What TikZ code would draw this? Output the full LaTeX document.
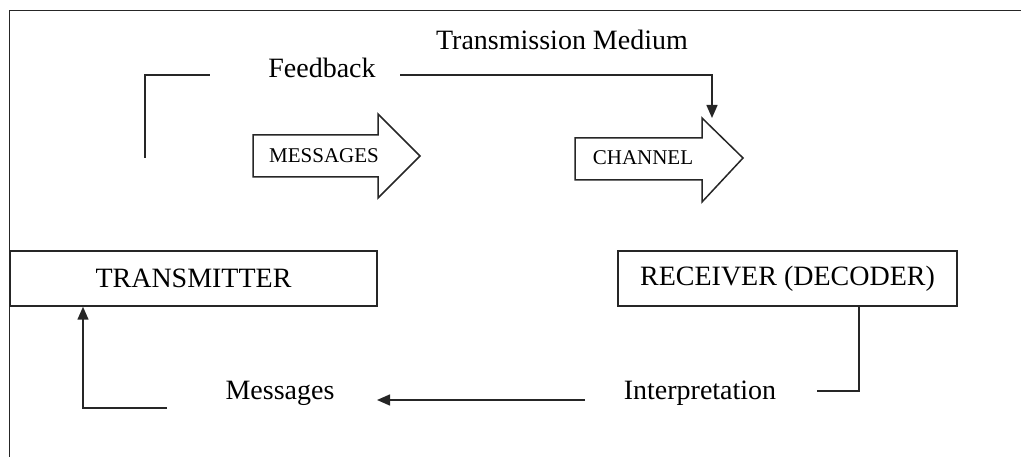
\documentclass[tikz,border=0pt]{standalone}
\usepackage{fontspec}
\setmainfont{Liberation Serif}
\usetikzlibrary{arrows.meta}
\begin{document}
\begin{tikzpicture}[x=1pt,y=-1pt,
  line/.style={draw=black!85, line width=1.5pt},
  arr/.style={line, -{Triangle[length=13pt,width=11pt]}},
  big/.style={font=\fontsize{28}{32}\selectfont, inner sep=0pt},
  small/.style={font=\fontsize{21}{25}\selectfont, inner sep=0pt},
  boxed/.style={line, rectangle, minimum height=55pt, font=\fontsize{28}{32}\selectfont}
]
\useasboundingbox (0,0) rectangle (1021,457);
% frame
\draw[line] (1021,10.5) -- (9.5,10.5) -- (9.5,457);
% texts
\node[big] (medium) at (562,40) {Transmission Medium};
\node[big] (feedback) at (322,68) {Feedback};
\node[big] (messages) at (280,393) {Messages};
\node[big] (interp) at (700,393) {Interpretation};
% boxes
\node[boxed, minimum width=367pt] (tx) at (193.5,278.5) {TRANSMITTER};
\node[boxed, minimum width=339pt] (rx) at (787.5,278.5) {RECEIVER (DECODER)};
% block arrows
\draw[line, fill=white] (253,135) -- (378,135) -- (378,114) -- (420,156) -- (378,198) -- (378,177) -- (253,177) -- cycle;
\node[small] (msgarrow) at (324,156) {MESSAGES};
\draw[line, fill=white] (575,138) -- (702,138) -- (702,118) -- (743,158) -- (702,202) -- (702,180) -- (575,180) -- cycle;
\node[small] (chanarrow) at (643,158) {CHANNEL};
% feedback lines
\coordinate (fbA) at (145,158);
\coordinate (fbB) at (210,75);
\draw[line] (fbA) |- (fbB);
\coordinate (fbC) at (400,75);
\coordinate (fbD) at (712,118);
\draw[arr] (fbC) -| (fbD);
% bottom connectors
\coordinate (rxD) at (817,391);
\draw[line] (rx.south -| 859,0) |- (rxD);
\coordinate (msgS) at (585,400);
\coordinate (msgE) at (377,400);
\draw[arr] (msgS) -- (msgE);
\coordinate (txA) at (167,408);
\draw[arr] (txA) -| (tx.south -| 83,0);
\end{tikzpicture}
\end{document}
